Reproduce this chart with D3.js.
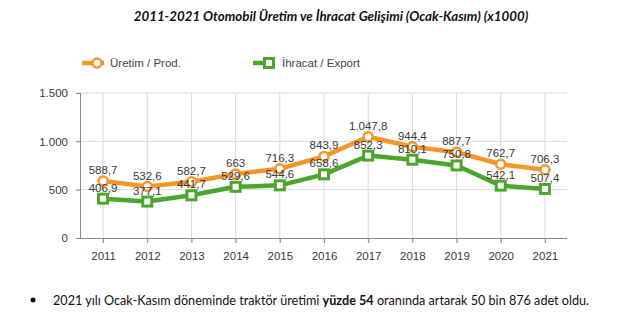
<!doctype html>
<html lang="tr">
<head>
<meta charset="utf-8">
<title>Otomobil Üretim ve İhracat</title>
<script src="https://d3js.org/d3.v7.min.js"></script>
<style>
  body { margin: 0; background: #fff; }
</style>
</head>
<body>
<div id="chart"></div>
<script>
const years = ['2011','2012','2013','2014','2015','2016','2017','2018','2019','2020','2021']
const production = [588.7, 532.6, 582.7, 663, 716.3, 843.9, 1047.8, 944.4, 887.7, 762.7, 706.3]
const exports = [406.9, 377.1, 441.7, 529.6, 544.6, 658.6, 852.3, 810.1, 750.8, 542.1, 507.4]
const yTicks = [0, 500, 1000, 1500]

const orange = '#f5952a'
const green = '#4ca62e'
const labelFont = 'Liberation Sans, Arial, sans-serif'

const W = 620, H = 333
const plot = { left: 81, right: 567, top: 93, bottom: 238 }

const svg = d3.select('#chart').append('svg')
    .attr('width', W).attr('height', H)

// turkish number format: dot thousands, comma decimals
const trFmt = d3.formatLocale({ decimal: ',', thousands: '.', grouping: [3], currency: ['', ''] })
const fmtVal = v => Number.isInteger(v) ? trFmt.format(',d')(v) : trFmt.format(',.1f')(v)
const fmtTick = trFmt.format(',d')

const x = d3.scalePoint().domain(years).range([plot.left, plot.right]).padding(0.5)
const y = d3.scaleLinear().domain([0, 1500]).range([plot.bottom, plot.top])

// shrink a text element's font so it spans the given width
function fitWidth(sel, width, size) {
  const len = sel.node().getComputedTextLength()
  sel.attr('font-size', size * width / len)
}

const title = svg.append('text')
    .attr('x', 331).attr('y', 21)
    .attr('text-anchor', 'middle')
    .attr('font-family', 'Lato, sans-serif')
    .attr('font-weight', 'bold').attr('font-style', 'italic')
    .attr('font-size', 13.5).attr('fill', '#111')
    .text('2011-2021 Otomobil Üretim ve İhracat Gelişimi (Ocak-Kasım) (x1000)')
fitWidth(title, 395, 13.5)

// grid
svg.append('g').selectAll('line').data(yTicks.slice(1)).join('line')
    .attr('x1', plot.left - 5).attr('x2', plot.right)
    .attr('y1', d => y(d)).attr('y2', d => y(d))
    .attr('stroke', '#dadada')
svg.append('g').selectAll('line').data(years).join('line')
    .attr('x1', d => x(d)).attr('x2', d => x(d))
    .attr('y1', plot.top).attr('y2', plot.bottom + 5)
    .attr('stroke', '#dadada')

// axes
const yAxis = svg.append('g').attr('transform', `translate(${plot.left},0)`)
    .call(d3.axisLeft(y).tickValues(yTicks).tickFormat(fmtTick).tickSize(5).tickPadding(8))
const xAxis = svg.append('g').attr('transform', `translate(0,${plot.bottom})`)
    .call(d3.axisBottom(x).tickSize(5).tickPadding(9))
xAxis.select('.domain').attr('d', `M${plot.left},0.5H${plot.right}`)
yAxis.select('.domain').attr('d', `M-0.5,${plot.top}V${plot.bottom}`)
for (const ax of [xAxis, yAxis]) {
  ax.select('.domain').attr('stroke', '#8a8a8a')
  ax.selectAll('.tick line').attr('stroke', '#8a8a8a')
  ax.selectAll('.tick text').attr('fill', '#3a3a3a').attr('font-size', 11.5).attr('font-family', labelFont)
}

const series = [
  { name: 'Üretim / Prod.', values: production, color: orange, shape: 'circle' },
  { name: 'İhracat / Export', values: exports, color: green, shape: 'square' }
]

const line = d3.line().x((d, i) => x(years[i])).y(d => y(d))

function marker(g, shape, color) {
  if (shape === 'circle') {
    g.append('circle').attr('r', 4.5)
      .attr('fill', '#fff').attr('stroke', color).attr('stroke-width', 2.5)
  } else {
    g.append('rect').attr('x', -4.5).attr('y', -4.5).attr('width', 9).attr('height', 9)
      .attr('fill', '#fff').attr('stroke', color).attr('stroke-width', 3)
  }
}

for (const s of series) {
  svg.append('path').datum(s.values)
    .attr('d', line).attr('fill', 'none')
    .attr('stroke', s.color).attr('stroke-width', 4.5)
    .attr('stroke-linejoin', 'round')
  svg.append('g').selectAll('g').data(s.values).join('g')
    .attr('transform', (d, i) => `translate(${x(years[i])},${y(d)})`)
    .each(function () { marker(d3.select(this), s.shape, s.color) })
}

for (const s of series) {
  svg.append('g').selectAll('text').data(s.values).join('text')
    .attr('x', (d, i) => x(years[i])).attr('y', d => y(d) - 7)
    .attr('text-anchor', 'middle')
    .attr('font-family', labelFont).attr('font-size', 11.5)
    .attr('fill', '#3a3a3a')
    .text(fmtVal)
}

// legend
const legendPos = [{ x: 82, tx: 110 }, { x: 253, tx: 282 }]
series.forEach((s, i) => {
  const g = svg.append('g').attr('transform', `translate(${legendPos[i].x},63)`)
  g.append('line').attr('x1', 0).attr('x2', 22).attr('stroke', s.color).attr('stroke-width', 4.5)
  const m = g.append('g').attr('transform', `translate(${s.shape === 'circle' ? 15 : 16},0)`)
  marker(m, s.shape, s.color)
  svg.append('text').attr('x', legendPos[i].tx).attr('y', 67)
    .attr('font-family', labelFont).attr('font-size', 11.5).attr('fill', '#444')
    .text(s.name)
})

// note under the chart
svg.append('circle').attr('cx', 33).attr('cy', 300).attr('r', 2.5).attr('fill', '#111')
const note = svg.append('text').attr('x', 53).attr('y', 305)
    .attr('font-family', 'Lato, sans-serif').attr('font-size', 13.5).attr('fill', '#111')
note.append('tspan').text('2021 yılı Ocak-Kasım döneminde traktör üretimi ')
note.append('tspan').attr('font-weight', 'bold').text('yüzde 54')
note.append('tspan').text(' oranında artarak 50 bin 876 adet oldu.')
fitWidth(note, 537, 13.5)
</script>
</body>
</html>
